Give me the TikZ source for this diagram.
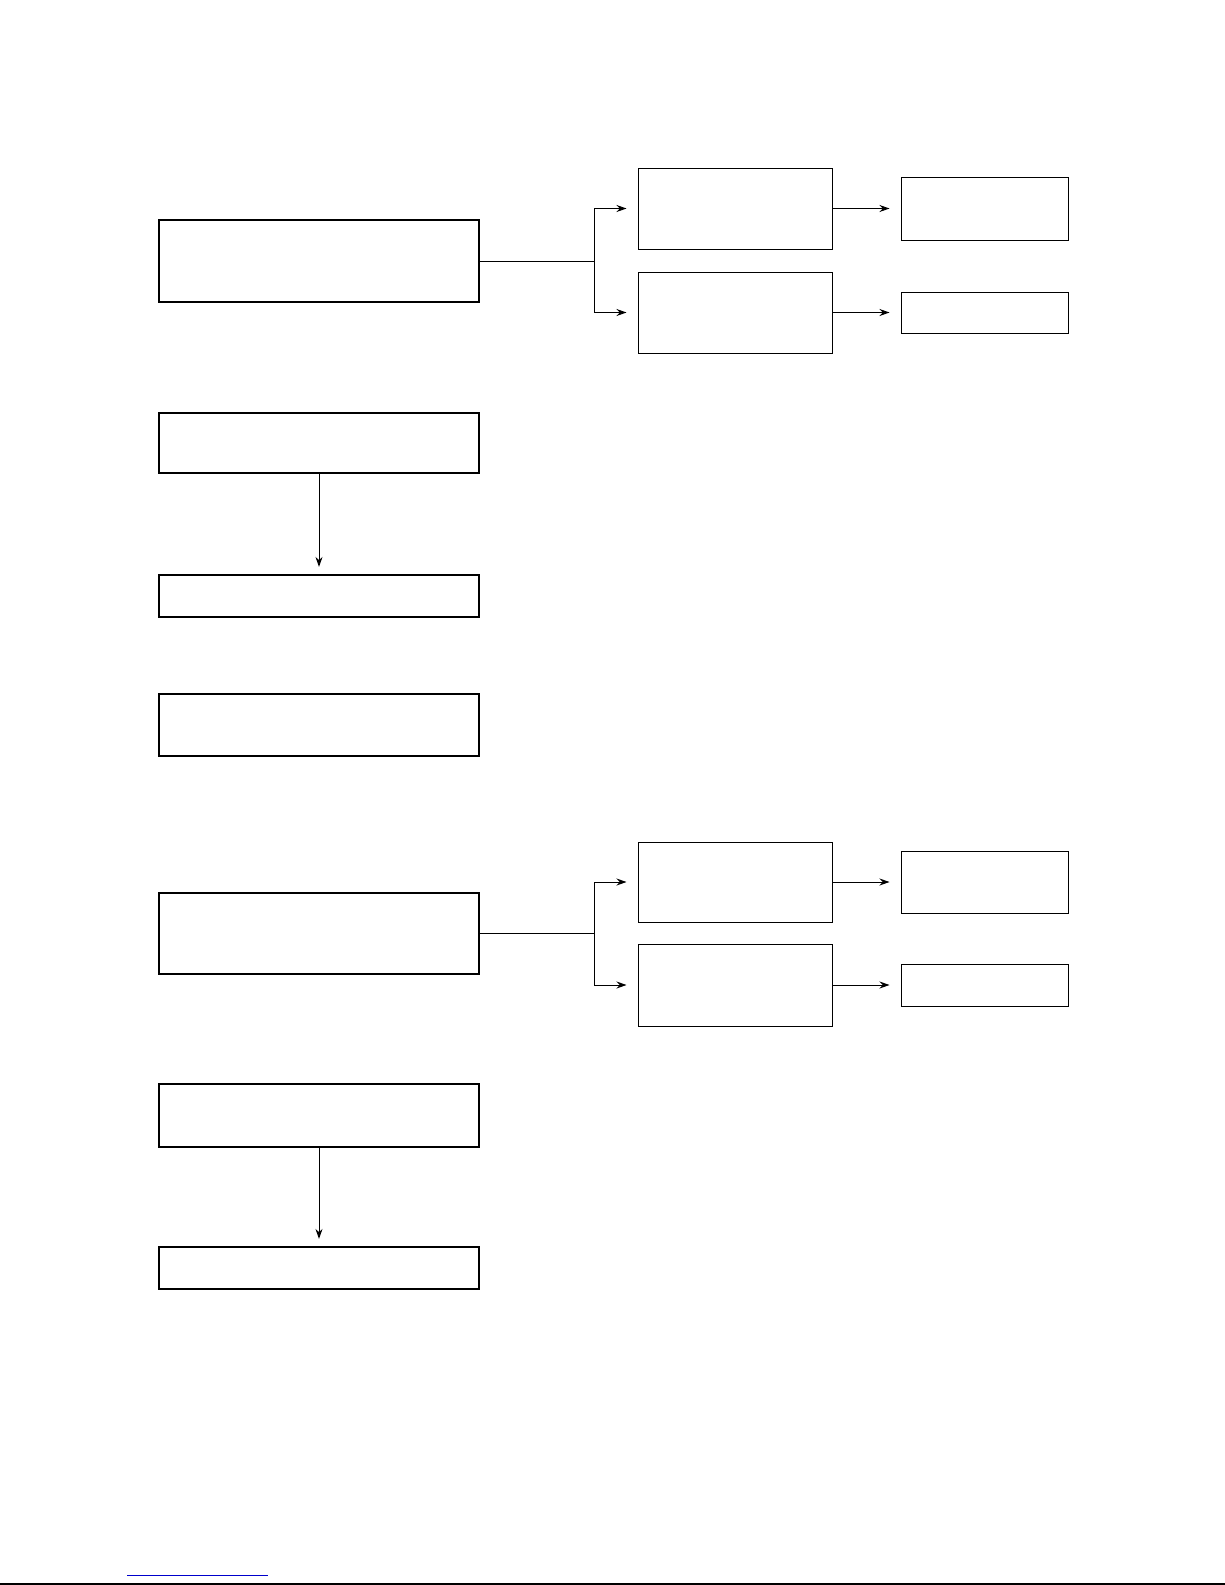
\documentclass[tikz,border=0pt]{standalone}
\usetikzlibrary{arrows.meta}
\begin{document}
\begin{tikzpicture}[x=1pt,y=-1pt,
  thickbox/.style={draw, line width=2.2pt, inner sep=0pt, minimum width=320pt},
  midbox/.style={draw, line width=1pt, inner sep=0pt, minimum width=194pt},
  endbox/.style={draw, line width=1pt, inner sep=0pt, minimum width=167pt},
  conn/.style={line width=1pt},
  arr/.style={conn, -{Stealth[length=10pt,width=7pt]}, shorten >=11pt},
  varr/.style={conn, -{Stealth[length=10pt,width=7pt]}, shorten >=7pt}]
\useasboundingbox (0,0) rectangle (1225,1585);
% group 1
\node[thickbox, minimum height=82pt] (A1) at (319,261) {};
\node[midbox, minimum height=81pt] (B1) at (735,208.5) {};
\node[midbox, minimum height=81pt] (B2) at (735,312.5) {};
\node[endbox, minimum height=63pt] (C1) at (984.5,208.5) {};
\node[endbox, minimum height=41pt] (C2) at (984.5,312.5) {};
\coordinate (j1) at (594,261);
\draw[conn] (A1.east) -- (j1);
\draw[arr] (j1) |- (B1.west);
\draw[arr] (j1) |- (B2.west);
\draw[arr] (B1.east) -- (C1.west);
\draw[arr] (B2.east) -- (C2.west);
% group 2
\node[thickbox, minimum height=60pt] (E) at (319,443) {};
\node[thickbox, minimum height=42pt] (F) at (319,596) {};
\draw[varr] (E.south) -- (F.north);
\node[thickbox, minimum height=62pt] (G) at (319,725) {};
% group 3
\node[thickbox, minimum height=81pt] (H) at (319,933.5) {};
\node[midbox, minimum height=80pt] (I) at (735,882) {};
\node[midbox, minimum height=82pt] (J) at (735,985) {};
\node[endbox, minimum height=62pt] (K) at (984.5,882) {};
\node[endbox, minimum height=42pt] (L) at (984.5,985) {};
\coordinate (j2) at (594,933.5);
\draw[conn] (H.east) -- (j2);
\draw[arr] (j2) |- (I.west);
\draw[arr] (j2) |- (J.west);
\draw[arr] (I.east) -- (K.west);
\draw[arr] (J.east) -- (L.west);
% group 4
\node[thickbox, minimum height=63pt] (M) at (319,1115.5) {};
\node[thickbox, minimum height=42pt] (N) at (319,1268) {};
\draw[varr] (M.south) -- (N.north);
% footer
\coordinate (u1) at (127,1575);
\coordinate (u2) at (268,1575);
\draw[blue!80!black, line width=1pt] (u1) -- (u2);
\coordinate (f1) at (0,1584);
\coordinate (f2) at (1225,1584);
\draw[line width=1.5pt] (f1) -- (f2);
\end{tikzpicture}
\end{document}
